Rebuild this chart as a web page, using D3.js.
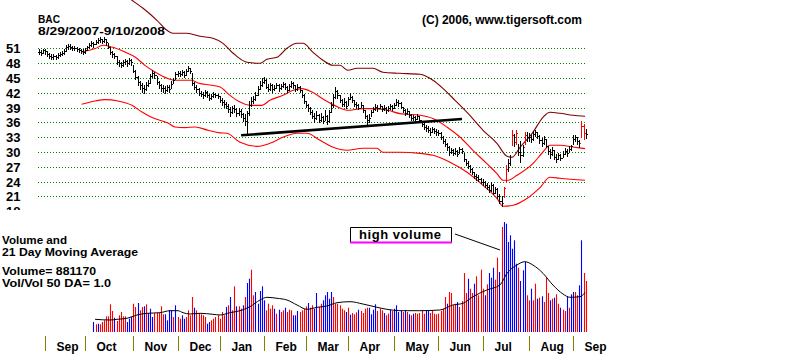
<!DOCTYPE html>
<html><head><meta charset="utf-8">
<script src="https://cdn.jsdelivr.net/npm/d3@7/dist/d3.min.js"></script>
<style>
body{margin:0;background:#fff}
svg{display:block}
text{font-family:"Liberation Sans",Arial,sans-serif;font-weight:bold;fill:#000}
</style>
</head><body>
<script>
// ---------------- DATA ----------------
// trading-day index 0 = 8/29/2007 ... 260 = 9/10/2008
const monthLabels=["Sep","Oct","Nov","Dec","Jan","Feb","Mar","Apr","May","Jun","Jul","Aug","Sep"];
const monthStarts=[3,22,45,66,86,107,127,147,169,190,211,233,254];
const priceTicks=[51,48,45,42,39,36,33,30,27,24,21,18];

const closes=[
50.3,50.1,50.6,
50.4,49.8,49.5,49.3,49.4,49.2,49.6,49.9,50.0,50.4,51.2,51.4,51.3,51.0,51.1,50.8,50.7,50.4,50.3,
50.6,51.2,51.6,52.0,51.8,52.3,52.6,52.9,52.4,52.8,52.2,51.3,50.2,49.8,49.5,48.3,48.0,47.7,48.2,48.4,48.0,48.6,48.3,
46.5,45.2,44.2,43.5,43.0,42.8,43.6,44.0,45.3,46.0,45.5,44.2,43.5,43.0,42.9,42.6,43.1,42.8,43.8,44.6,45.8,
46.0,45.8,46.2,45.5,46.5,47.0,46.3,44.0,43.2,42.8,42.0,41.8,41.5,42.2,41.6,41.0,41.3,41.8,41.5,41.3,
40.6,40.2,39.8,39.4,38.6,38.0,38.8,38.6,37.9,38.2,37.6,36.8,36.2,37.8,39.6,40.3,40.8,41.6,42.8,43.6,44.2,
44.6,43.2,42.8,43.5,42.7,43.0,43.6,42.9,43.3,43.8,43.1,42.6,43.4,43.9,43.5,42.8,43.2,42.5,41.6,40.3,
39.5,38.8,38.0,37.2,36.8,37.5,36.5,37.0,36.3,37.2,36.2,38.0,39.5,41.2,42.3,41.5,40.5,39.8,40.2,39.4,
40.8,41.2,40.5,39.8,39.5,39.0,39.6,38.4,37.2,36.5,36.8,38.0,38.6,39.2,38.8,39.4,38.7,39.0,38.4,38.9,39.3,38.8,
39.6,40.2,40.0,39.2,38.4,37.8,38.2,37.4,36.8,37.0,36.6,37.2,36.5,35.6,35.0,34.8,34.5,34.0,34.6,34.2,34.0,
33.8,33.0,32.2,31.6,31.0,30.0,30.4,29.8,30.2,29.6,30.6,30.1,28.6,27.8,27.2,26.6,26.0,25.2,25.0,24.6,23.9,
24.0,23.2,22.8,22.2,23.2,21.6,22.4,21.0,20.0,19.6,22.6,26.5,27.8,29.0,33.5,32.0,33.8,30.0,29.3,31.0,33.5,33.0,
33.0,32.6,33.6,34.0,33.2,32.4,31.8,32.6,31.2,30.2,29.6,30.4,29.0,28.6,29.4,28.8,29.6,30.2,29.8,30.6,31.1,
32.6,33.0,32.2,31.8,35.2,33.8,33.6];

const highs=[
50.8,50.6,50.9,
50.9,50.5,50.0,49.9,49.8,49.7,50.0,50.3,50.5,50.8,51.6,51.9,51.8,51.5,51.5,51.3,51.1,50.9,50.8,
51.0,51.5,52.0,52.4,52.3,52.6,53.0,53.3,52.9,53.2,52.8,52.0,51.2,50.4,50.0,49.4,48.6,48.3,48.7,48.9,48.6,49.0,48.9,
47.6,46.6,45.4,44.4,43.9,43.6,44.1,44.6,45.8,46.7,46.2,45.3,44.3,43.8,43.5,43.3,43.6,43.5,44.3,45.0,46.2,
46.5,46.4,46.6,46.3,46.8,47.4,47.1,46.0,44.2,43.6,42.9,42.4,42.1,42.6,42.3,41.8,41.7,42.2,42.0,41.8,
41.4,41.0,40.5,40.1,39.8,39.2,39.4,39.5,38.8,38.9,38.7,37.9,37.6,38.3,40.4,41.2,41.3,42.2,43.4,44.3,44.9,
45.2,44.8,43.7,43.9,43.8,43.6,44.0,43.8,43.8,44.2,44.0,43.3,43.8,44.3,44.2,43.6,43.7,43.4,42.6,41.8,
40.4,39.8,39.2,38.4,37.8,38.3,37.6,37.8,37.2,38.4,37.4,38.4,40.2,41.8,43.1,42.6,41.6,40.8,40.9,40.3,
41.2,41.9,41.3,40.6,40.2,39.8,40.1,39.6,38.5,37.4,37.6,38.5,39.2,39.8,39.5,39.8,39.4,39.5,39.2,39.4,39.8,39.6,
40.0,40.8,40.6,40.1,39.2,38.6,38.7,38.3,37.6,37.5,37.2,37.7,37.3,36.3,35.8,35.4,35.2,34.8,35.0,34.8,34.6,
34.4,34.0,33.2,32.6,31.8,31.2,30.8,30.6,30.7,30.4,30.9,30.8,29.8,28.6,28.2,27.4,26.8,26.0,25.6,25.4,24.8,
24.6,24.2,23.6,23.2,23.8,23.4,22.9,22.6,21.4,21.0,22.9,27.3,28.6,29.4,34.4,33.6,34.4,31.7,32.3,31.5,34.0,34.0,
33.8,33.4,34.2,34.5,34.1,33.5,32.8,33.2,32.6,31.2,30.6,31.0,30.3,29.5,29.8,29.6,30.2,30.8,30.5,31.1,31.5,
33.4,33.5,33.1,32.5,36.2,35.6,34.6];

const lows=[
49.9,49.6,50.0,
49.9,49.4,49.1,48.9,48.9,48.8,49.1,49.4,49.6,49.8,50.5,50.9,50.8,50.6,50.6,50.4,50.2,50.0,49.9,
50.1,50.6,51.1,51.5,51.3,51.8,52.0,52.3,52.0,52.2,51.7,51.0,49.9,49.3,49.0,47.9,47.4,47.2,47.5,47.8,47.4,47.9,47.7,
46.1,44.8,43.6,42.7,42.2,42.0,42.6,43.4,44.0,45.2,44.9,43.7,42.9,42.3,42.2,41.9,42.4,42.2,42.9,43.9,44.8,
45.4,45.3,45.6,45.1,45.6,46.3,46.0,43.6,42.8,42.2,41.6,41.3,40.9,41.4,41.2,40.6,40.8,41.2,41.1,40.9,
40.1,39.6,39.2,38.8,38.0,37.3,37.8,38.0,37.2,37.4,37.1,36.2,35.5,33.4,37.4,39.3,40.0,40.6,41.5,42.8,43.4,
44.0,42.9,42.3,42.6,42.2,42.5,42.9,42.4,42.7,43.2,42.8,42.1,42.6,43.2,43.0,42.3,42.6,42.1,41.1,39.9,
39.2,38.3,37.6,36.8,36.1,36.7,36.0,36.2,35.8,36.4,35.6,36.0,38.0,39.2,41.0,41.0,40.2,39.3,39.4,38.9,
39.6,40.7,40.1,39.4,39.0,38.6,39.1,38.0,36.8,35.6,36.1,37.2,38.0,38.5,38.3,38.8,38.3,38.5,37.9,38.3,38.7,38.4,
38.8,39.6,39.4,38.9,38.1,37.4,37.6,37.1,36.4,36.4,36.2,36.6,36.1,35.2,34.6,34.3,34.0,33.5,34.0,33.8,33.5,
33.4,32.6,31.8,31.2,30.4,29.4,29.7,29.3,29.5,29.2,29.8,29.7,28.2,27.3,26.8,26.0,25.6,24.8,24.4,24.1,23.6,
23.3,22.8,22.4,21.8,22.0,21.4,21.6,20.6,19.6,19.1,20.9,23.9,26.2,27.3,31.3,31.2,31.7,29.3,28.0,29.1,31.7,32.2,
32.2,32.0,32.5,33.2,32.8,31.9,31.1,31.6,30.9,29.6,28.8,29.4,28.5,27.9,28.6,28.3,28.9,29.5,29.2,30.0,30.4,
31.7,32.2,31.6,31.0,33.0,32.6,32.8];

// price bars drawn in red (high-volume days)
const redPriceBars=[221,222,225,227,231,258,259];

// 21-day moving average and bands: [day index, price]
const maMid=[[20.4,50.25],[26.8,50.94],[30.6,51.61],[34.8,51.26],[41,50.25],[45.8,49.24],[50.5,47.55],[55.3,46.2],[61.5,44.86],[64.8,44.51],[72.9,44.51],[75.7,43.97],[82.4,43.5],[86.2,43.15],[90.9,41.47],[95.7,40.11],[100.4,39.44],[106.1,39.44],[109.9,40.46],[116.1,41.47],[120.9,42.49],[125.1,42.83],[129.9,42.14],[136.1,40.46],[142.2,39.1],[147,38.43],[153.7,38.78],[159.8,38.78],[166,38.43],[171.7,37.76],[181.3,37.42],[187.4,36.75],[194,35.05],[200.2,33.02],[206.4,30.32],[213,27.62],[217.8,25.6],[220.7,24.24],[223,24.24],[227.3,25.25],[234.9,27.62],[239.7,29.98],[243,31.34],[247.8,31.34],[253.9,30.99],[259.7,30.67]];
const bandUpper=[[20.4,61.8],[27,62.8],[31,63.3],[36,63],[41,61.8],[44.4,60.73],[49.6,59.11],[56.2,56.68],[61,54.65],[63.8,54.04],[70.5,54.04],[76.7,53.43],[82.8,53.03],[87.6,52.01],[92.4,49.99],[99,48.16],[105.2,47.96],[108.5,48.77],[113.3,49.18],[118,51],[122.8,52.01],[125.6,52.01],[130.4,50.19],[135.1,48.57],[139.9,47.55],[143.2,47.55],[147,46.54],[151.3,46.95],[158.9,46.95],[163.6,46.13],[171.7,45.93],[181.3,45.73],[187.4,44.51],[192.1,42.89],[197.9,40.46],[204.5,37.6],[211.2,34.38],[217.8,31.74],[222.6,29.1],[224.9,28.9],[228.8,30.93],[234.9,33.97],[239.7,37.01],[243,38.03],[247.8,37.82],[253.9,37.42],[259.7,37.22]];
const bandLower=[[20.4,39.65],[26.8,40.32],[31.5,40.6],[37.7,40.32],[44.3,39.44],[49.1,38.09],[53.9,36.95],[61.5,35.86],[64.8,35.05],[69.5,34.92],[74.3,35.05],[80.5,34.38],[86.2,33.86],[89.5,33.77],[95.7,31.94],[103.8,31.13],[109.9,31.74],[116.1,32.96],[122.8,33.77],[127.5,33.77],[133.7,32.35],[139.9,30.93],[146.5,30.32],[154.1,30.73],[160.8,30.73],[163.6,29.92],[171.7,29.92],[181.3,29.71],[187.4,29.31],[195.5,27.89],[203.6,25.86],[211.2,23.23],[217.8,20.59],[220.7,18.97],[225.5,19.17],[232.2,20.59],[238.4,22.82],[243,24.85],[247.8,24.65],[259.7,24.24]];
const trendLine=[[96.2,33.36],[201.2,36.67]];

// volume (relative units), first bar at day index volumeStart
const volumeStart=26;
const volumes=[
10,7.7,8.3,7.7,10,11.7,15.7,15.7,27.7,21,14.3,11,16.7,20,15.7,15.7,10,13.3,15,28.3,
25,29,21.7,25,25.7,27.7,19,23.3,15,19,19,19,25.7,17.7,17.7,11.7,21.7,21.7,15,26.7,
15,13.3,16.7,13.3,15,21.7,16.7,35,24.3,21.7,
19,
17.7,16.7,15,8.3,10,11.7,13.3,15,16.7,13.3,20,16.7,25,26.7,35,21.7,45.7,25.7,25.7,23.3,
26.7,35,49,53.3,62.3,
36.7,40,28.3,41,45.7,31.7,21.7,28.3,23.3,26.7,23.3,18.3,22.3,20,21.7,24.3,20,22.3,21.7,16.7,
16.7,21,20,21.7,23.3,25.7,29,24.3,26.7,23.3,39,25,28.3,31.7,36.7,40,33.3,40,35,28.3,
28.3,26.7,23.3,21.7,20,24.3,17.3,19,17.7,19.7,22.3,21,19,23.3,24.3,24.3,17.7,22.3,27.7,21,
23.3,21.7,19,16.7,18.3,22.3,21,23.3,26.7,
20,
21,20,21.7,20,17.7,16.7,18.3,19,18.3,19,21,18.3,21,21.7,19,21,18.3,17.7,18.3,21,
23.3,35,28.3,40,39,26.7,28.3,30,25,31,59,39,53.3,43.3,39,48.3,55.7,36.7,62.3,43.3,
36.7,47.7,59,54.3,64.3,52.3,74.3,60,105,110,108.3,90,96.7,83.3,91.7,68.3,64.3,51,61.7,70,
36.7,31.7,43.3,31.7,48.3,33.3,34.3,35.7,30,54.3,39,31.7,33.3,34.3,37.7,28.3,24.3,22.3,
21,35.7,24.3,37.7,40,40,36.7,46.7,91.7,59,51];
const volumeColors=(
"brbrrrrrrr"+"brrrrrbbbr"+"rbrrbrbbbr"+"rrrrbbbbrb"+"rrbbrrrrbr"+
"r"+
"rrrbbrrrrr"+"rrbrbrrbrr"+"brbbr"+"rbbbbbrrrr"+"brbrrbrrrb"+"bbrrrrbrrb"+"brrbbbbbrr"+"rrrrbrbrrr"+"brrrrbbbbr"+"rrbrrbrbb"+
"b"+
"brbrbrbrrr"+"rrbbrrrrrr"+"rrbrrrrbrr"+"rrbrrbrrrr"+"brbbbrrbrb"+"bbbbbbrbbb"+"rrbrrbrbr"+"rrbrbrrbr"+"rbrbbrrbbrr").split("");
// 21-day moving average of volume: [day index, volume]
const volMA=[[26.8,12.7],[33.9,12],[37.2,12.7],[42,13.7],[46.7,17],[51.5,18.7],[57.6,19.3],[62.4,21.3],[66.2,21.3],[68.6,19.3],[71.9,18],[76.7,18.7],[82.8,17.7],[86.2,17],[90.9,19.3],[95.7,21.3],[100.4,25.3],[105.2,32],[108.5,34.7],[113.3,33.7],[118,32],[122.8,27],[127.5,22.7],[132.3,24.7],[137,26],[141.8,29.3],[148,30.3],[154.1,28],[160.8,24.7],[165.5,22.7],[171.7,21.3],[181.2,21.3],[190.7,22],[196.9,27],[201.7,28.7],[206.4,35.3],[213,42],[219.2,47],[222.6,58.7],[227.3,67],[231.1,70.3],[234.9,67],[239.7,58.7],[244.4,47],[249.2,38],[252.5,34.7],[257.2,35.3],[259.7,39.3]];

// ---------------- DRAW ----------------
const W=800,H=356;
const svg=d3.select("body").append("svg").attr("width",W).attr("height",H);
svg.append("rect").attr("width",W).attr("height",H).attr("fill","#fff");

const x=d3.scaleLinear().domain([0,260]).range([38.7,585.7]);
const y=d3.scaleLinear().domain([21,51]).range([196.3,48.3]);
const yv=d3.scaleLinear().domain([0,110]).range([332,222]);
const px=i=>Math.round(x(i))+0.5;

const defs=svg.append("defs");
defs.append("clipPath").attr("id","lblclip").append("rect").attr("x",0).attr("y",0).attr("width",36).attr("height",210);

// grid lines
svg.append("g").selectAll("line").data(priceTicks.filter(v=>v>=21)).join("line")
  .attr("x1",38).attr("x2",586)
  .attr("y1",v=>Math.round(y(v))+0.5).attr("y2",v=>Math.round(y(v))+0.5)
  .attr("stroke","#008000").attr("stroke-width",1).attr("stroke-dasharray","1,2");

// price labels
svg.append("g").attr("clip-path","url(#lblclip)").selectAll("text").data(priceTicks).join("text")
  .attr("x",20.5).attr("y",v=>y(v)+5).attr("text-anchor","end").attr("font-size",13).text(v=>v);

// bands and average
const line=d3.line().x(d=>x(d[0])).y(d=>y(d[1])).curve(d3.curveMonotoneX);
svg.append("path").attr("d",line(bandUpper)).attr("fill","none").attr("stroke","#800000").attr("stroke-width",1.1);
svg.append("path").attr("d",line(bandLower)).attr("fill","none").attr("stroke","#ff0000").attr("stroke-width",1.1);
svg.append("path").attr("d",line(maMid)).attr("fill","none").attr("stroke","#ff0000").attr("stroke-width",1.1);

// price bars
function barPath(idxs){
  let p="";
  for(const i of idxs){
    const xi=px(i);
    const yh=Math.round(y(highs[i])), yl=Math.round(y(lows[i]))+1;
    const yc=Math.round(y(closes[i]))+0.5;
    const yo=Math.round(y(i>0?closes[i-1]:closes[i]))+0.5;
    p+=`M${xi},${yh}V${yl}M${xi-1.5},${yo}H${xi-0.5}M${xi+0.5},${yc}H${xi+1.5}`;
  }
  return p;
}
const idx=d3.range(closes.length);
svg.append("path").attr("d",barPath(idx.filter(i=>!redPriceBars.includes(i))))
  .attr("fill","none").attr("stroke","#000").attr("stroke-width",1);
svg.append("path").attr("d",barPath(redPriceBars))
  .attr("fill","none").attr("stroke","#ff0000").attr("stroke-width",1);

// trend line
svg.append("path").attr("d",d3.line().x(d=>x(d[0])).y(d=>y(d[1]))(trendLine))
  .attr("fill","none").attr("stroke","#000").attr("stroke-width",2.6);

// titles
svg.append("text").attr("x",38).attr("y",22.5).attr("font-size",10.5).attr("textLength",22).attr("lengthAdjust","spacingAndGlyphs").text("BAC");
svg.append("text").attr("x",38).attr("y",34.5).attr("font-size",10.5).attr("textLength",127).attr("lengthAdjust","spacingAndGlyphs").text("8/29/2007-9/10/2008");
svg.append("text").attr("x",422).attr("y",24).attr("font-size",12).attr("textLength",160).text("(C) 2006, www.tigersoft.com");

// volume labels
const vl=[["Volume and",244,65],["21 Day Moving Average",256,136],["Volume= 881170",275,94],["Vol/Vol 50 DA= 1.0",287,109]];
svg.append("g").selectAll("text").data(vl).join("text")
  .attr("x",2).attr("y",d=>d[1]).attr("font-size",10.5).attr("textLength",d=>d[2]).attr("lengthAdjust","spacingAndGlyphs").text(d=>d[0]);

// volume bars
const vdata=volumes.map((v,k)=>({i:volumeStart+k,v,c:volumeColors[k]}));
svg.append("g").selectAll("line").data(vdata).join("line")
  .attr("x1",d=>px(d.i)).attr("x2",d=>px(d.i))
  .attr("y1",yv(0)).attr("y2",d=>yv(d.v))
  .attr("stroke",d=>d.c==="r"?"#ff0000":"#0000ff").attr("stroke-width",1.1);

// volume moving average
svg.append("path").attr("d",d3.line().x(d=>x(d[0])).y(d=>yv(d[1])).curve(d3.curveMonotoneX)(volMA))
  .attr("fill","none").attr("stroke","#000").attr("stroke-width",1);

// annotation "high volume"
const ann={left:350,top:227,right:452,bottom:242.5};
svg.append("path").attr("d",`M${ann.left+0.5},${ann.bottom}V${ann.top+0.5}H${ann.right-0.5}V${ann.bottom}`)
  .attr("fill","none").attr("stroke","#000").attr("stroke-width",1);
svg.append("line").attr("x1",ann.left).attr("x2",ann.right).attr("y1",ann.bottom).attr("y2",ann.bottom)
  .attr("stroke","#ff00ff").attr("stroke-width",2);
svg.append("text").attr("x",359).attr("y",238.5).attr("font-size",13).attr("textLength",82).text("high volume");
svg.append("line").attr("x1",455).attr("y1",234).attr("x2",x(219.3)).attr("y2",yv(82))
  .attr("stroke","#000").attr("stroke-width",1);

// month axis
const mg=svg.append("g");
mg.selectAll("line").data(monthStarts).join("line")
  .attr("x1",d=>px(d)).attr("x2",d=>px(d)).attr("y1",336).attr("y2",351)
  .attr("stroke","#808000").attr("stroke-width",1);
mg.selectAll("text").data(monthLabels).join("text")
  .attr("x",(d,k)=>px(monthStarts[k])+11).attr("y",350.5).attr("font-size",12).text(d=>d);

if(closes.length!==261||highs.length!==261||lows.length!==261||volumes.length!==235||volumeColors.length!==235){
  svg.append("text").attr("x",600).attr("y",340).attr("fill","#f00").attr("font-size",10)
   .text(`len ${closes.length} ${highs.length} ${lows.length} ${volumes.length} ${volumeColors.length}`);
}
</script>
</body></html>
